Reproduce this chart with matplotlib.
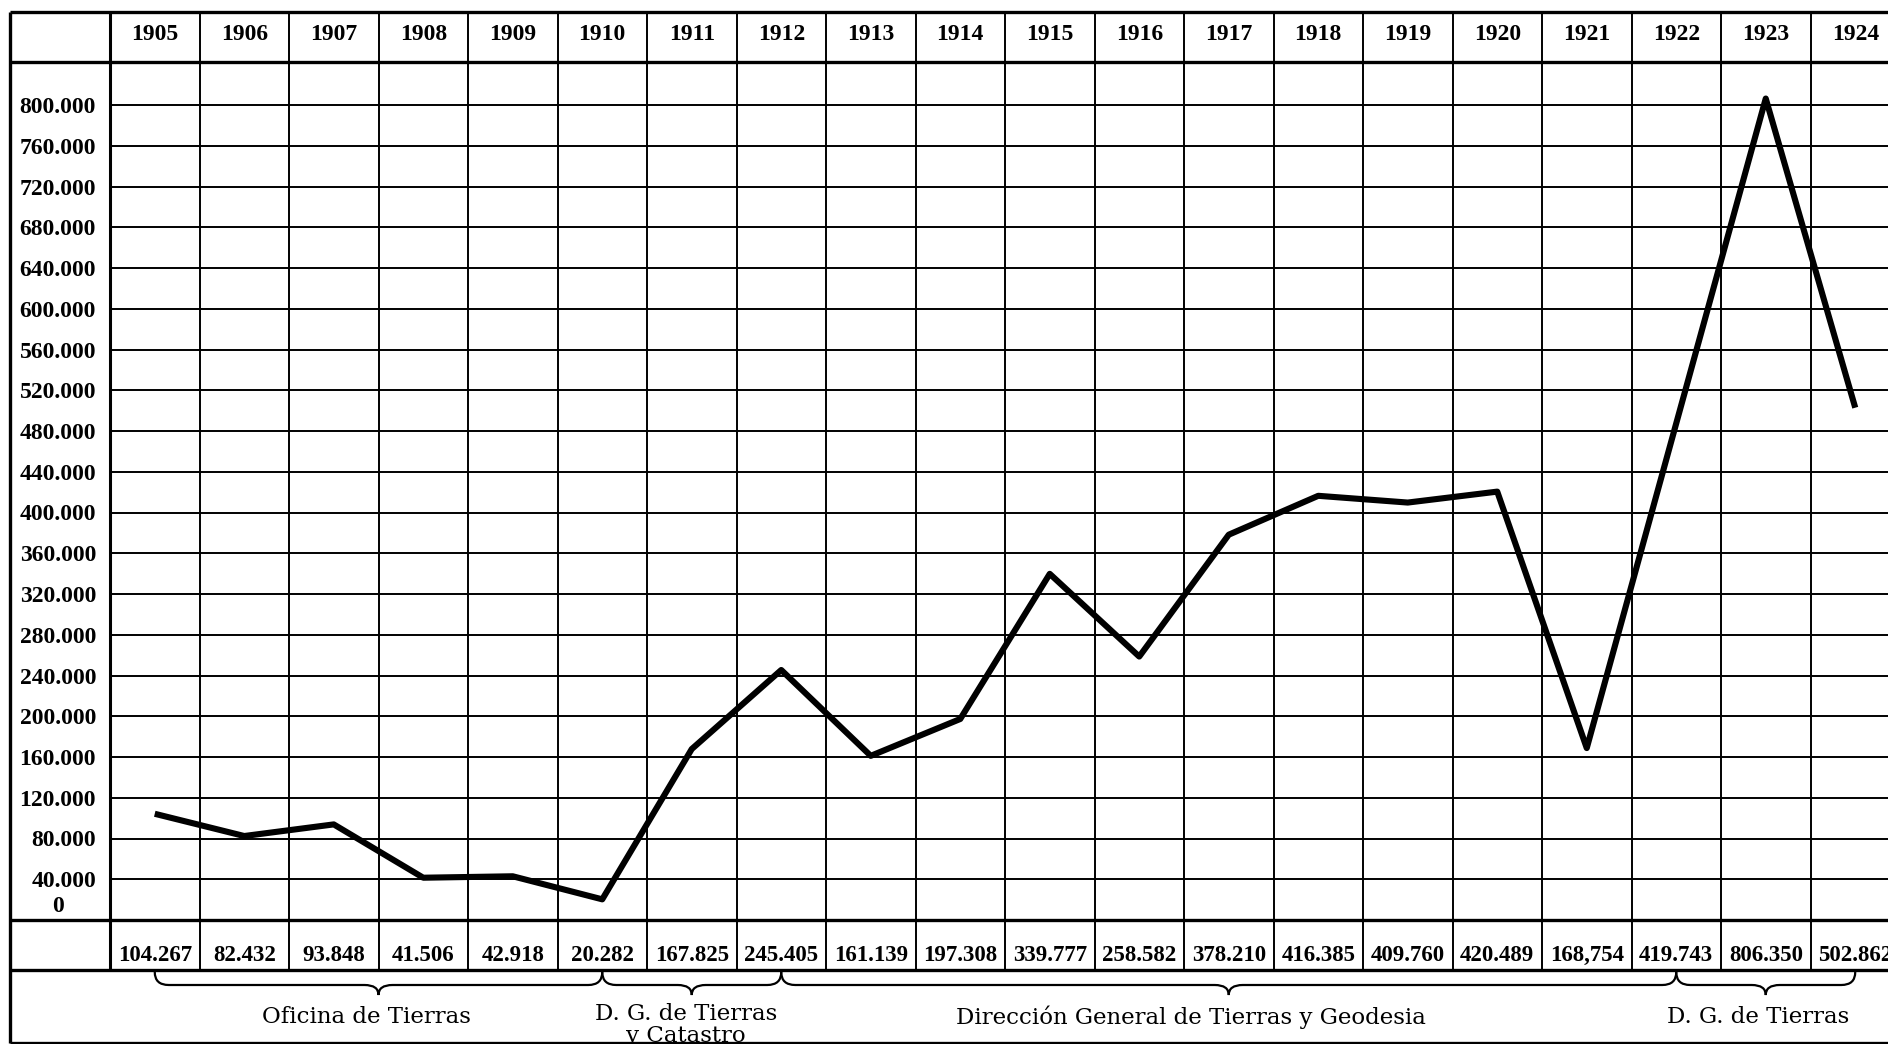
import matplotlib
matplotlib.use("Agg")
import matplotlib.pyplot as plt
from matplotlib.path import Path
from matplotlib.patches import PathPatch

# datos del cuadro (hectáreas por año)
years = list(range(1905, 1925))
values = [104267, 82432, 93848, 41506, 42918, 20282, 167825, 245405, 161139, 197308,
          339777, 258582, 378210, 416385, 409760, 420489, 168754, 419743, 806350, 502862]
value_labels = ["104.267", "82.432", "93.848", "41.506", "42.918", "20.282", "167.825",
                "245.405", "161.139", "197.308", "339.777", "258.582", "378.210", "416.385",
                "409.760", "420.489", "168,754", "419.743", "806.350", "502.862"]
# la curva dibujada no tiene vértice en 1922
line_years = [y for y in years if y != 1922]
line_values = [v for y, v in zip(years, values) if y != 1922]
y_ticks = list(range(40000, 840000, 40000))
period_names = ["Oficina de Tierras", "D. G. de Tierras\ny Catastro",
                "Dirección General de Tierras y Geodesia", "D. G. de Tierras"]
period_start = [1905, 1910, 1912, 1922]
period_end = [1910, 1912, 1922, 1924]

W, H = 1888, 1044
COL = 89.5          # ancho de columna en pixeles
X0, TOP, ZERO = 110, 62, 920
NUM_FONT = dict(family="Liberation Serif", weight="bold")

fig = plt.figure(figsize=(W / 100, H / 100), dpi=100)
ax = fig.add_axes([X0 / W, (H - ZERO) / H, (W - X0) / W, (ZERO - TOP) / H])
xmin, xmax = 1904.5, 1904.5 + (W - X0) / COL
ax.set_xlim(xmin, xmax)
ax.set_ylim(0, (ZERO - TOP) / 40.75 * 40000)
for s in ax.spines.values():
    s.set_visible(False)
ax.set_xticks([])


def fy(ypix):
    return (ZERO - ypix) / (ZERO - TOP)


def fx(xpix):
    return (xpix - X0) / (W - X0)


trans = ax.get_xaxis_transform()

# cuadricula
ax.hlines(y_ticks, xmin, xmax, color="black", lw=1.4)
bounds = [1904.5 + k for k in range(1, 20)]
ax.vlines(bounds, fy(970), fy(12), transform=trans, color="black", lw=1.4, clip_on=False)
ax.vlines([1904.5], fy(970), fy(12), transform=trans, color="black", lw=2.2, clip_on=False)

# marco de la tabla
ax.hlines([fy(12), fy(TOP), fy(ZERO), fy(970), fy(1043)], fx(10), 1,
          transform=ax.transAxes, color="black", lw=2.4, clip_on=False)
ax.vlines([fx(10)], fy(1043), fy(12), transform=ax.transAxes, color="black", lw=2.4,
          clip_on=False)

# eje y
ax.set_yticks(y_ticks)
ax.set_yticklabels([f"{v:,}".replace(",", ".") for v in y_ticks], fontsize=17, **NUM_FONT)
ax.tick_params(axis="y", length=0, pad=10)
ax.text(fx(58), fy(906), "0", transform=ax.transAxes, ha="center", va="center",
        fontsize=17, **NUM_FONT)

# años y valores
for yr, lab in zip(years, value_labels):
    ax.text(yr, fy(34), str(yr), transform=trans, ha="center", va="center",
            fontsize=17, **NUM_FONT)
    ax.text(yr, fy(961), lab, transform=trans, ha="center", va="baseline",
            fontsize=16.5, **NUM_FONT)

# curva
ax.plot(line_years, line_values, color="black", lw=4.4, solid_joinstyle="round",
        solid_capstyle="butt", clip_on=False)

# llaves y nombres de las oficinas
r = 14 / COL
yt, ym, yb = fy(972), fy(985), fy(995)
label_shift = [-12, -6, -38, -8]
for name, a, b, sh in zip(period_names, period_start, period_end, label_shift):
    m = (a + b) / 2
    verts = [(a, yt), (a, ym), (a + r, ym),
             (m - r, ym),
             (m, ym), (m, yb),
             (m, ym), (m + r, ym),
             (b - r, ym),
             (b, ym), (b, yt)]
    codes = [Path.MOVETO, Path.CURVE3, Path.CURVE3,
             Path.LINETO,
             Path.CURVE3, Path.CURVE3,
             Path.CURVE3, Path.CURVE3,
             Path.LINETO,
             Path.CURVE3, Path.CURVE3]
    ax.add_patch(PathPatch(Path(verts, codes), transform=trans, fill=False,
                           edgecolor="black", lw=1.6, clip_on=False))
    ty = fy(1025) if "\n" in name else fy(1017)
    ax.text(m + sh / COL, ty, name, transform=trans, ha="center", va="center",
            fontsize=16.5, family="DejaVu Serif", linespacing=0.95)

plt.savefig("out.png", dpi=100)
